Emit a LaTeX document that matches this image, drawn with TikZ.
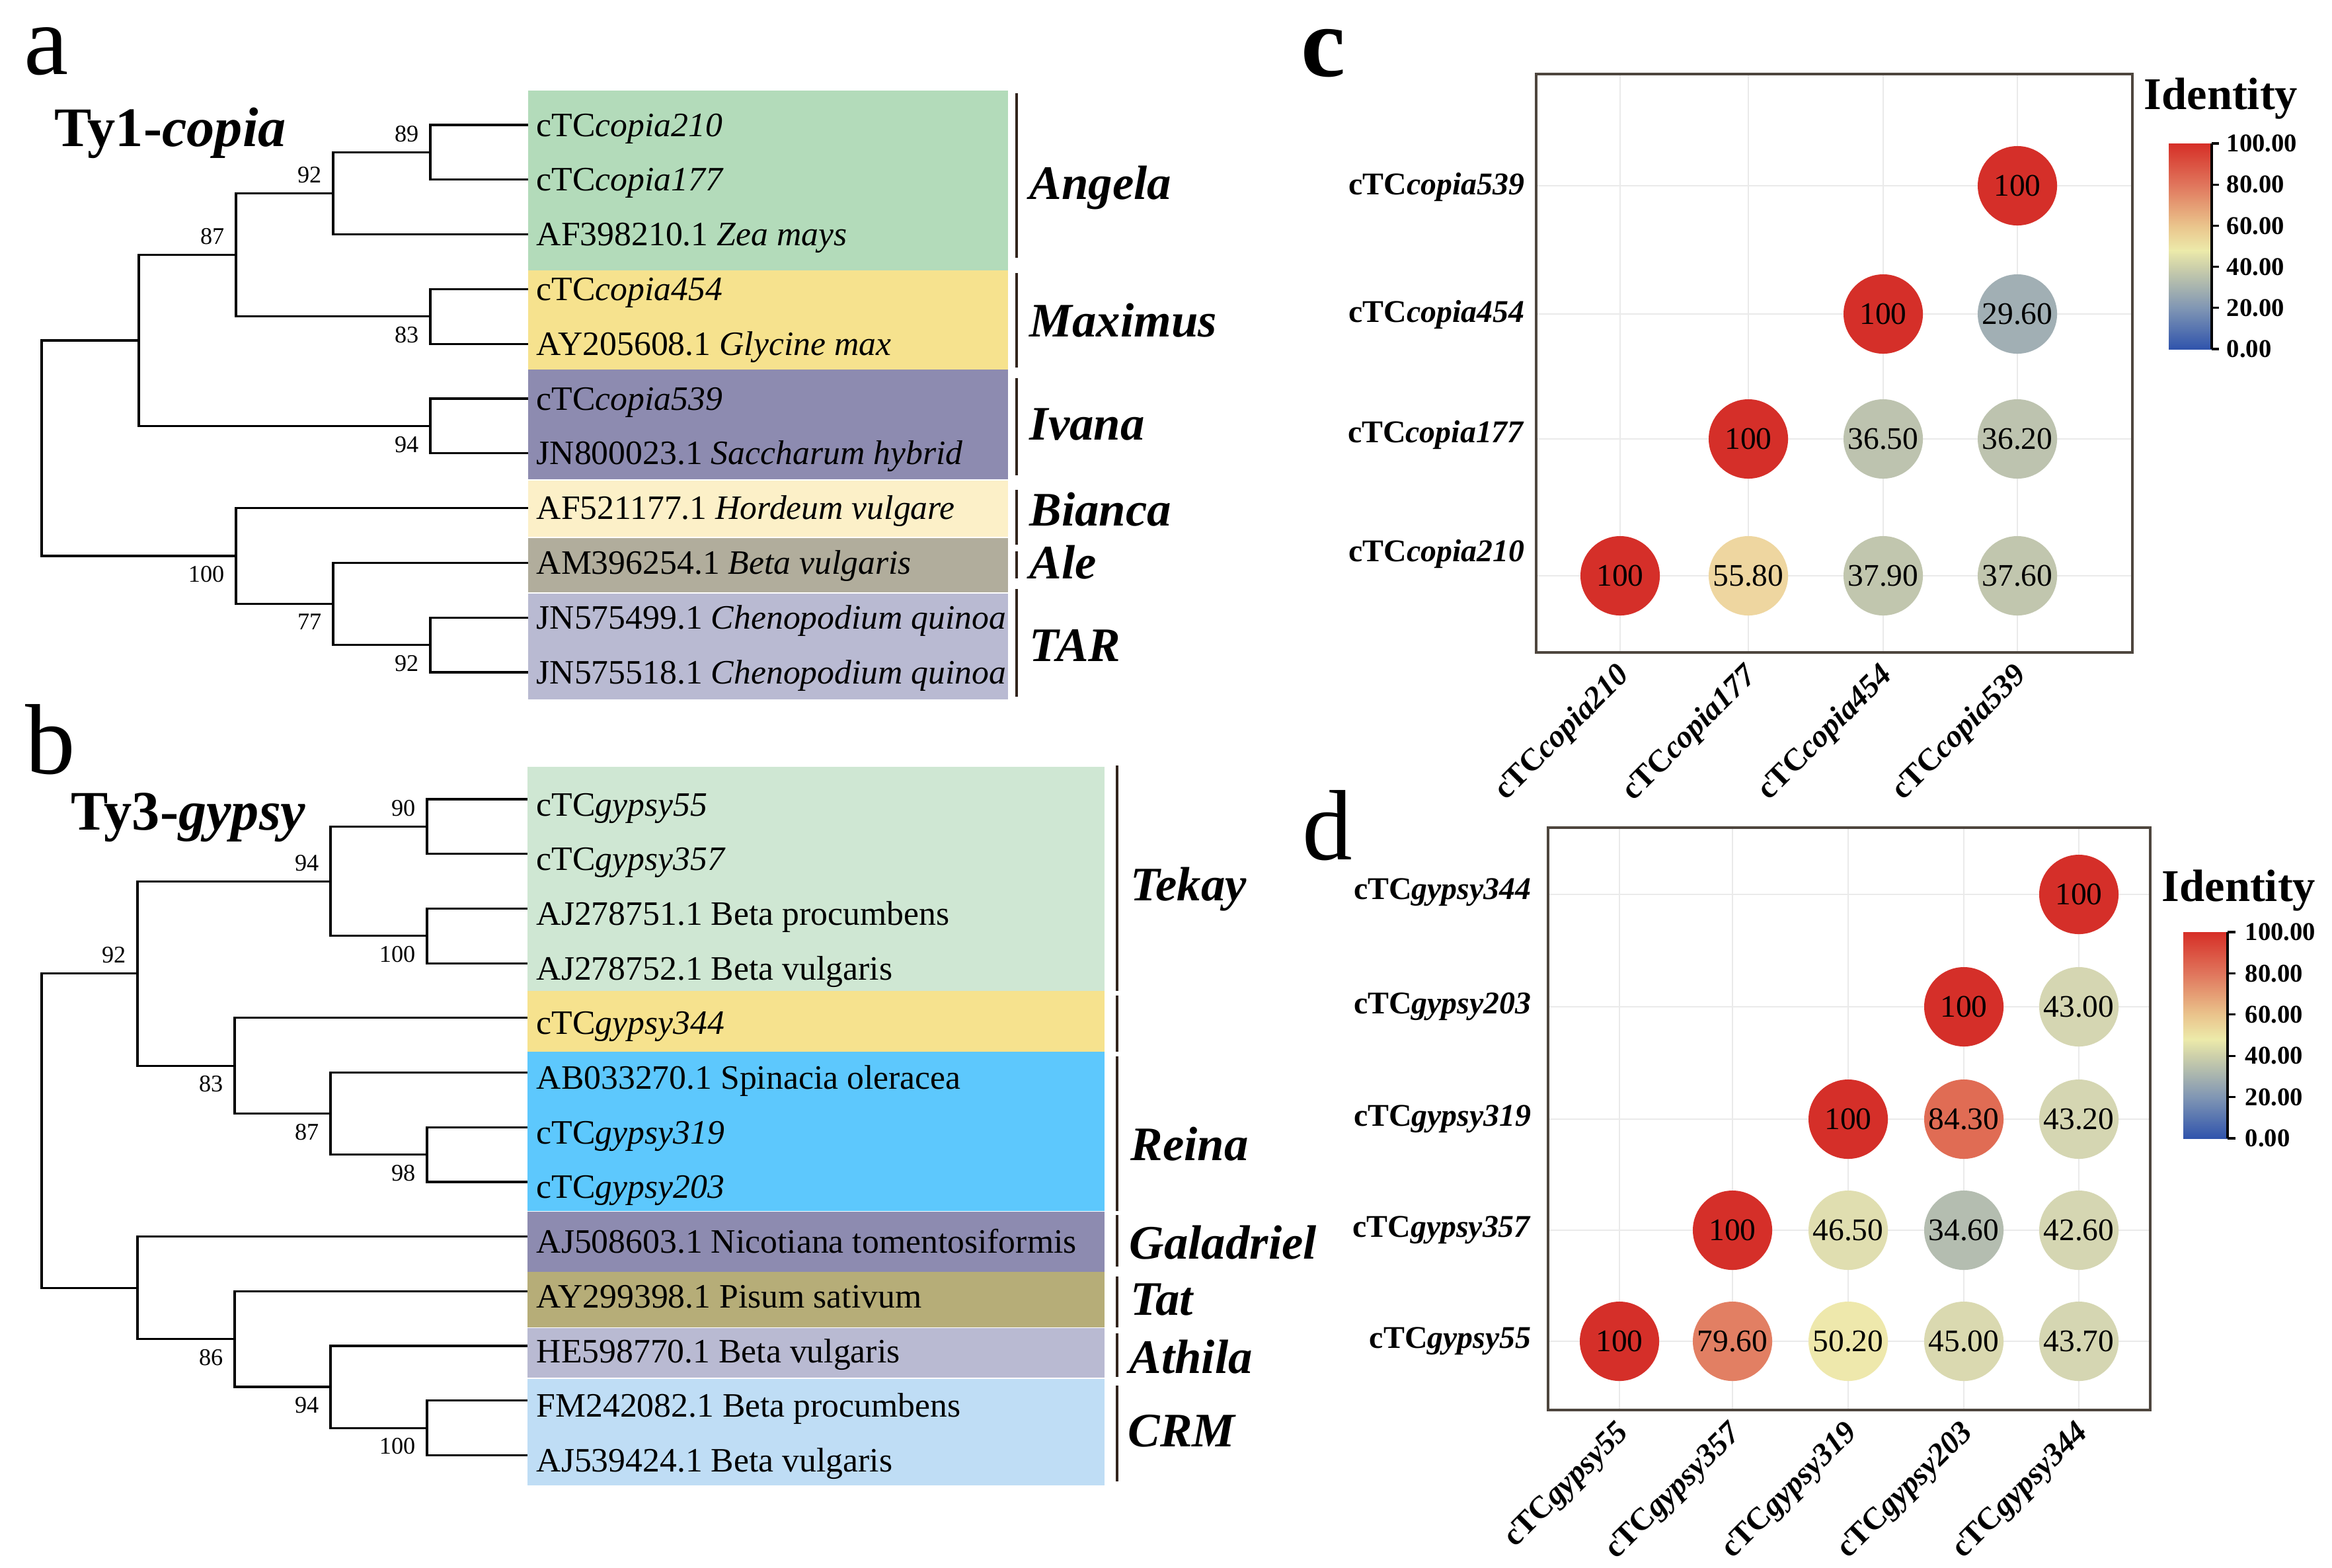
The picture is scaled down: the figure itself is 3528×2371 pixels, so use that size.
\documentclass[tikz,border=0pt]{standalone}
\usepackage{fontspec}
\setmainfont{Liberation Serif}
\usepackage{xcolor}
\usetikzlibrary{positioning}

% clade box colours
\definecolor{angelagreen}{RGB}{179,219,186}
\definecolor{maxyellow}{RGB}{246,226,142}
\definecolor{ivanapurple}{RGB}{141,139,176}
\definecolor{biancacream}{RGB}{252,240,200}
\definecolor{alegray}{RGB}{177,173,156}
\definecolor{tarlav}{RGB}{185,186,210}
\definecolor{tekaygreen}{RGB}{207,231,211}
\definecolor{reinablue}{RGB}{93,200,253}
\definecolor{tatolive}{RGB}{182,173,120}
\definecolor{crmblue}{RGB}{191,221,245}
\definecolor{barbrown}{RGB}{50,36,28}
\definecolor{framegray}{RGB}{78,70,62}
\definecolor{gridgray}{RGB}{234,234,234}
% identity colours
\definecolor{v100}{RGB}{213,47,41}
\definecolor{v843}{RGB}{224,108,84}
\definecolor{v796}{RGB}{226,127,99}
\definecolor{v558}{RGB}{238,214,160}
\definecolor{v502}{RGB}{238,232,172}
\definecolor{v465}{RGB}{224,222,176}
\definecolor{v450}{RGB}{218,217,176}
\definecolor{v43}{RGB}{213,214,178}
\definecolor{v379}{RGB}{193,198,174}
\definecolor{v365}{RGB}{189,195,175}
\definecolor{v346}{RGB}{180,189,176}
\definecolor{v296}{RGB}{161,175,180}
% colour bar stops
\definecolor{cb100}{RGB}{214,47,39}
\definecolor{cb80}{RGB}{224,117,92}
\definecolor{cb60}{RGB}{234,196,140}
\definecolor{cb48}{RGB}{236,234,170}
\definecolor{cb40}{RGB}{205,208,170}
\definecolor{cb20}{RGB}{128,150,180}
\definecolor{cb0}{RGB}{48,84,172}

\tikzset{
  branch/.style={line width=0.9pt, line join=miter},
  leaf/.style={anchor=base west, inner sep=0pt, font=\fontsize{14.7pt}{17pt}\selectfont},
  bootup/.style={anchor=south east, inner sep=0pt, xshift=-1.7mm, yshift=1.5mm, font=\fontsize{10.3pt}{12pt}\selectfont},
  bootdown/.style={anchor=north east, inner sep=0pt, xshift=-1.7mm, yshift=-1.5mm, font=\fontsize{10.3pt}{12pt}\selectfont},
  clade/.style={anchor=base west, inner sep=0pt, font=\fontsize{20.7pt}{24pt}\selectfont\bfseries\itshape},
  cladebar/.style={line width=1.3pt, draw=barbrown},
  panel/.style={anchor=base west, inner sep=0pt, font=\fontsize{43pt}{48pt}\selectfont},
  title/.style={anchor=base west, inner sep=0pt, font=\fontsize{24pt}{28pt}\selectfont\bfseries},
  cell/.style={circle, minimum size=1.2cm, inner sep=0pt, font=\fontsize{13.5pt}{16pt}\selectfont},
  rowlab/.style={anchor=east, inner sep=0pt, font=\fontsize{13.6pt}{16pt}\selectfont\bfseries},
  collab/.style={anchor=east, rotate=45, inner sep=0pt, font=\fontsize{13.6pt}{16pt}\selectfont\bfseries},
  gridln/.style={draw=gridgray, line width=0.6pt},
  frame/.style={draw=framegray, line width=1.1pt},
  ticklab/.style={anchor=west, inner sep=0pt, font=\fontsize{11pt}{13pt}\selectfont\bfseries},
  legtitle/.style={anchor=base west, inner sep=0pt, font=\fontsize{19.5pt}{22pt}\selectfont\bfseries},
}

\begin{document}
\begin{tikzpicture}[x=0.01cm, y=-0.01cm]
      \useasboundingbox (0,0) rectangle (3528,2371);

      % panel letters and titles
      \node[panel] (pa) at (36,112) {a};
      \node[panel] (pb) at (38,1170) {b};
      \node[panel, font=\fontsize{43pt}{48pt}\selectfont\bfseries] (pc) at (1968,115) {c};
      \node[panel] (pd) at (1970,1300) {d};
      \node[title] (ta) at (82,221) {Ty1-\textit{copia}};
      \node[title] (tb) at (107,1255) {Ty3-\textit{gypsy}};

      % coloured clade boxes of tree a
      \fill[angelagreen] (799,137) rectangle (1525,409);
      \fill[maxyellow] (799,409) rectangle (1525,559);
      \fill[ivanapurple] (799,559) rectangle (1525,725);
      \fill[biancacream] (799,727) rectangle (1525,812);
      \fill[alegray] (799,814) rectangle (1525,896);
      \fill[tarlav] (799,898) rectangle (1525,1058);

      % coloured clade boxes of tree b
      \fill[tekaygreen] (798,1160) rectangle (1671,1499);
      \fill[maxyellow] (798,1499) rectangle (1671,1591);
      \fill[reinablue] (798,1591) rectangle (1671,1832);
      \fill[ivanapurple] (798,1833) rectangle (1671,1924);
      \fill[tatolive] (798,1924) rectangle (1671,2008);
      \fill[tarlav] (798,2009) rectangle (1671,2084);
      \fill[crmblue] (798,2086) rectangle (1671,2247);

      % tips of tree a
      \coordinate (la1) at (799,189);
      \coordinate (la2) at (799,271.8);
      \coordinate (la3) at (799,354.6);
      \coordinate (la4) at (799,437.4);
      \coordinate (la5) at (799,520.2);
      \coordinate (la6) at (799,603);
      \coordinate (la7) at (799,685.8);
      \coordinate (la8) at (799,768.6);
      \coordinate (la9) at (799,851.4);
      \coordinate (la10) at (799,934.2);
      \coordinate (la11) at (799,1017);

      % inner nodes of tree a
      \coordinate (na89) at (651,230.4);
      \coordinate (na92) at (504,292.5);
      \coordinate (na83) at (651,478.8);
      \coordinate (na87) at (357,385.65);
      \coordinate (na94) at (651,644.4);
      \coordinate (nax) at (210,515);
      \coordinate (na92b) at (651,975.6);
      \coordinate (na77) at (504,913.5);
      \coordinate (na100) at (357,841);
      \coordinate (naroot) at (63,678);

      \draw[branch] (na89) |- (la1);
      \draw[branch] (na89) |- (la2);
      \draw[branch] (na92) |- (na89);
      \draw[branch] (na92) |- (la3);
      \draw[branch] (na83) |- (la4);
      \draw[branch] (na83) |- (la5);
      \draw[branch] (na87) |- (na92);
      \draw[branch] (na87) |- (na83);
      \draw[branch] (na94) |- (la6);
      \draw[branch] (na94) |- (la7);
      \draw[branch] (nax) |- (na87);
      \draw[branch] (nax) |- (na94);
      \draw[branch] (na92b) |- (la10);
      \draw[branch] (na92b) |- (la11);
      \draw[branch] (na77) |- (la9);
      \draw[branch] (na77) |- (na92b);
      \draw[branch] (na100) |- (la8);
      \draw[branch] (na100) |- (na77);
      \draw[branch] (naroot) |- (nax);
      \draw[branch] (naroot) |- (na100);

      % bootstrap values of tree a
      \node[bootup] (ba89) at (na89) {89};
      \node[bootup] (ba92) at (na92) {92};
      \node[bootup] (ba87) at (na87) {87};
      \node[bootdown] (ba83) at (na83) {83};
      \node[bootdown] (ba94) at (na94) {94};
      \node[bootdown] (ba92b) at (na92b) {92};
      \node[bootdown] (ba77) at (na77) {77};
      \node[bootdown] (ba100) at (na100) {100};

      % tip labels of tree a
      \node[leaf] (sa1) at (811,206) {cTC\textit{copia210}};
      \node[leaf] (sa2) at (811,288.8) {cTC\textit{copia177}};
      \node[leaf] (sa3) at (811,371.6) {AF398210.1 \textit{Zea mays}};
      \node[leaf] (sa4) at (811,454.4) {cTC\textit{copia454}};
      \node[leaf] (sa5) at (811,537.2) {AY205608.1 \textit{Glycine max}};
      \node[leaf] (sa6) at (811,620) {cTC\textit{copia539}};
      \node[leaf] (sa7) at (811,702.8) {JN800023.1 \textit{Saccharum hybrid}};
      \node[leaf] (sa8) at (811,785.6) {AF521177.1 \textit{Hordeum vulgare}};
      \node[leaf] (sa9) at (811,868.4) {AM396254.1 \textit{Beta vulgaris}};
      \node[leaf] (sa10) at (811,951.2) {JN575499.1 \textit{Chenopodium quinoa}};
      \node[leaf] (sa11) at (811,1034) {JN575518.1 \textit{Chenopodium quinoa}};

      % clade bars and names of tree a
      \draw[cladebar] (1538,141) -- (1538,390);
      \draw[cladebar] (1538,413) -- (1538,556);
      \draw[cladebar] (1538,572) -- (1538,719);
      \draw[cladebar] (1538,741) -- (1538,824);
      \draw[cladebar] (1538,834) -- (1538,875);
      \draw[cladebar] (1538,891) -- (1538,1054);
      \node[clade] (angela) at (1557,301) {Angela};
      \node[clade] (maximus) at (1557,509) {Maximus};
      \node[clade] (ivana) at (1557,665) {Ivana};
      \node[clade] (bianca) at (1557,795) {Bianca};
      \node[clade] (ale) at (1557,875) {Ale};
      \node[clade] (tar) at (1557,1000) {TAR};

      % tips of tree b
      \coordinate (lb1) at (798,1209);
      \coordinate (lb2) at (798,1291.7);
      \coordinate (lb3) at (798,1374.4);
      \coordinate (lb4) at (798,1457.1);
      \coordinate (lb5) at (798,1539.8);
      \coordinate (lb6) at (798,1622.5);
      \coordinate (lb7) at (798,1705.2);
      \coordinate (lb8) at (798,1787.9);
      \coordinate (lb9) at (798,1870.6);
      \coordinate (lb10) at (798,1953.3);
      \coordinate (lb11) at (798,2036);
      \coordinate (lb12) at (798,2118.7);
      \coordinate (lb13) at (798,2201.4);

      % inner nodes of tree b
      \coordinate (nb90) at (646,1250.35);
      \coordinate (nb100a) at (646,1415.75);
      \coordinate (nb94a) at (500,1333.05);
      \coordinate (nb98) at (646,1746.55);
      \coordinate (nb87) at (500,1684.5);
      \coordinate (nb83) at (355,1612.15);
      \coordinate (nb92) at (208,1472.6);
      \coordinate (nb100b) at (646,2160.05);
      \coordinate (nb94b) at (500,2098);
      \coordinate (nb86) at (355,2025.65);
      \coordinate (nbk) at (208,1948.1);
      \coordinate (nbroot) at (63,1710.35);

      \draw[branch] (nb90) |- (lb1);
      \draw[branch] (nb90) |- (lb2);
      \draw[branch] (nb100a) |- (lb3);
      \draw[branch] (nb100a) |- (lb4);
      \draw[branch] (nb94a) |- (nb90);
      \draw[branch] (nb94a) |- (nb100a);
      \draw[branch] (nb98) |- (lb7);
      \draw[branch] (nb98) |- (lb8);
      \draw[branch] (nb87) |- (lb6);
      \draw[branch] (nb87) |- (nb98);
      \draw[branch] (nb83) |- (lb5);
      \draw[branch] (nb83) |- (nb87);
      \draw[branch] (nb92) |- (nb94a);
      \draw[branch] (nb92) |- (nb83);
      \draw[branch] (nb100b) |- (lb12);
      \draw[branch] (nb100b) |- (lb13);
      \draw[branch] (nb94b) |- (lb11);
      \draw[branch] (nb94b) |- (nb100b);
      \draw[branch] (nb86) |- (lb10);
      \draw[branch] (nb86) |- (nb94b);
      \draw[branch] (nbk) |- (lb9);
      \draw[branch] (nbk) |- (nb86);
      \draw[branch] (nbroot) |- (nb92);
      \draw[branch] (nbroot) |- (nbk);

      % bootstrap values of tree b
      \node[bootup] (bb90) at (nb90) {90};
      \node[bootdown] (bb100a) at (nb100a) {100};
      \node[bootup] (bb94a) at (nb94a) {94};
      \node[bootdown] (bb98) at (nb98) {98};
      \node[bootdown] (bb87) at (nb87) {87};
      \node[bootdown] (bb83) at (nb83) {83};
      \node[bootup] (bb92) at (nb92) {92};
      \node[bootdown] (bb100b) at (nb100b) {100};
      \node[bootdown] (bb94b) at (nb94b) {94};
      \node[bootdown] (bb86) at (nb86) {86};

      % tip labels of tree b
      \node[leaf] (sb1) at (811,1234) {cTC\textit{gypsy55}};
      \node[leaf] (sb2) at (811,1316.7) {cTC\textit{gypsy357}};
      \node[leaf] (sb3) at (811,1399.4) {AJ278751.1 Beta procumbens};
      \node[leaf] (sb4) at (811,1482.1) {AJ278752.1 Beta vulgaris};
      \node[leaf] (sb5) at (811,1564.8) {cTC\textit{gypsy344}};
      \node[leaf] (sb6) at (811,1647.5) {AB033270.1 Spinacia oleracea};
      \node[leaf] (sb7) at (811,1730.2) {cTC\textit{gypsy319}};
      \node[leaf] (sb8) at (811,1812.9) {cTC\textit{gypsy203}};
      \node[leaf] (sb9) at (811,1895.6) {AJ508603.1 Nicotiana tomentosiformis};
      \node[leaf] (sb10) at (811,1978.3) {AY299398.1 Pisum sativum};
      \node[leaf] (sb11) at (811,2061) {HE598770.1 Beta vulgaris};
      \node[leaf] (sb12) at (811,2143.7) {FM242082.1 Beta procumbens};
      \node[leaf] (sb13) at (811,2226.4) {AJ539424.1 Beta vulgaris};

      % clade bars and names of tree b
      \draw[cladebar] (1690,1158) -- (1690,1499);
      \draw[cladebar] (1690,1506) -- (1690,1591);
      \draw[cladebar] (1690,1598) -- (1690,1832);
      \draw[cladebar] (1690,1838) -- (1690,1916);
      \draw[cladebar] (1690,1931) -- (1690,2008);
      \draw[cladebar] (1690,2017) -- (1690,2083);
      \draw[cladebar] (1690,2096) -- (1690,2241);
      \node[clade] (tekay) at (1710,1362) {Tekay};
      \node[clade] (reina) at (1710,1755) {Reina};
      \node[clade] (galadriel) at (1708,1904) {Galadriel};
      \node[clade] (tat) at (1710,1989) {Tat};
      \node[clade] (athila) at (1708,2077) {Athila};
      \node[clade] (crm) at (1706,2188) {CRM};

      % identity plot c: grid and frame
      \draw[gridln] (2451,112) -- (2451,987);
      \draw[gridln] (2645,112) -- (2645,987);
      \draw[gridln] (2849,112) -- (2849,987);
      \draw[gridln] (3052,112) -- (3052,987);
      \draw[gridln] (2324,281) -- (3226,281);
      \draw[gridln] (2324,475) -- (3226,475);
      \draw[gridln] (2324,664) -- (3226,664);
      \draw[gridln] (2324,871) -- (3226,871);
      \draw[frame] (2324,112) rectangle (3226,987);

      % identity plot c: values
      \node[cell, fill=v100] (c11) at (2451,871) {100};
      \node[cell, fill=v558] (c12) at (2645,871) {55.80};
      \node[cell, fill=v379] (c13) at (2849,871) {37.90};
      \node[cell, fill=v379] (c14) at (3052,871) {37.60};
      \node[cell, fill=v100] (c22) at (2645,664) {100};
      \node[cell, fill=v365] (c23) at (2849,664) {36.50};
      \node[cell, fill=v365] (c24) at (3052,664) {36.20};
      \node[cell, fill=v100] (c33) at (2849,475) {100};
      \node[cell, fill=v296] (c34) at (3052,475) {29.60};
      \node[cell, fill=v100] (c44) at (3052,281) {100};

      % identity plot c: axis labels
      \node[rowlab] (cr4) at (2307,283) {cTC\textit{copia539}};
      \node[rowlab] (cr3) at (2307,476) {cTC\textit{copia454}};
      \node[rowlab] (cr2) at (2307,658) {cTC\textit{copia177}};
      \node[rowlab] (cr1) at (2307,838) {cTC\textit{copia210}};
      \node[collab] (cc1) at (2459,1015) {cTC\textit{copia210}};
      \node[collab] (cc2) at (2653,1015) {cTC\textit{copia177}};
      \node[collab] (cc3) at (2857,1015) {cTC\textit{copia454}};
      \node[collab] (cc4) at (3060,1015) {cTC\textit{copia539}};

      % identity plot c: colour bar
      \node[legtitle] (cid) at (3243,165) {Identity};
      \shade[top color=cb100, bottom color=cb80] (3281,217) rectangle (3346,279.2);
      \shade[top color=cb80, bottom color=cb60] (3281,279.2) rectangle (3346,341.4);
      \shade[top color=cb60, bottom color=cb48] (3281,341.4) rectangle (3346,378.7);
      \shade[top color=cb48, bottom color=cb40] (3281,378.7) rectangle (3346,403.6);
      \shade[top color=cb40, bottom color=cb20] (3281,403.6) rectangle (3346,465.8);
      \shade[top color=cb20, bottom color=cb0] (3281,465.8) rectangle (3346,528);
      \draw[line width=0.9pt] (3346,217) -- (3346,528);
      \draw[line width=0.9pt] (3346,217) -- (3357,217);
      \draw[line width=0.9pt] (3346,279.2) -- (3357,279.2);
      \draw[line width=0.9pt] (3346,341.4) -- (3357,341.4);
      \draw[line width=0.9pt] (3346,403.6) -- (3357,403.6);
      \draw[line width=0.9pt] (3346,465.8) -- (3357,465.8);
      \draw[line width=0.9pt] (3346,528) -- (3357,528);
      \node[ticklab] (ct100) at (3368,217) {100.00};
      \node[ticklab] (ct80) at (3368,279.2) {80.00};
      \node[ticklab] (ct60) at (3368,341.4) {60.00};
      \node[ticklab] (ct40) at (3368,403.6) {40.00};
      \node[ticklab] (ct20) at (3368,465.8) {20.00};
      \node[ticklab] (ct0) at (3368,528) {0.00};

      % identity plot d: grid and frame
      \draw[gridln] (2450,1252) -- (2450,2133);
      \draw[gridln] (2621,1252) -- (2621,2133);
      \draw[gridln] (2796,1252) -- (2796,2133);
      \draw[gridln] (2971,1252) -- (2971,2133);
      \draw[gridln] (3145,1252) -- (3145,2133);
      \draw[gridln] (2342,1353) -- (3253,1353);
      \draw[gridln] (2342,1523) -- (3253,1523);
      \draw[gridln] (2342,1693) -- (3253,1693);
      \draw[gridln] (2342,1861) -- (3253,1861);
      \draw[gridln] (2342,2029) -- (3253,2029);
      \draw[frame] (2342,1252) rectangle (3253,2133);

      % identity plot d: values
      \node[cell, fill=v100] (d11) at (2450,2029) {100};
      \node[cell, fill=v796] (d12) at (2621,2029) {79.60};
      \node[cell, fill=v502] (d13) at (2796,2029) {50.20};
      \node[cell, fill=v450] (d14) at (2971,2029) {45.00};
      \node[cell, fill=v43] (d15) at (3145,2029) {43.70};
      \node[cell, fill=v100] (d22) at (2621,1861) {100};
      \node[cell, fill=v465] (d23) at (2796,1861) {46.50};
      \node[cell, fill=v346] (d24) at (2971,1861) {34.60};
      \node[cell, fill=v43] (d25) at (3145,1861) {42.60};
      \node[cell, fill=v100] (d33) at (2796,1693) {100};
      \node[cell, fill=v843] (d34) at (2971,1693) {84.30};
      \node[cell, fill=v43] (d35) at (3145,1693) {43.20};
      \node[cell, fill=v100] (d44) at (2971,1523) {100};
      \node[cell, fill=v43] (d45) at (3145,1523) {43.00};
      \node[cell, fill=v100] (d55) at (3145,1353) {100};

      % identity plot d: axis labels
      \node[rowlab] (dr5) at (2317,1350) {cTC\textit{gypsy344}};
      \node[rowlab] (dr4) at (2317,1523) {cTC\textit{gypsy203}};
      \node[rowlab] (dr3) at (2317,1693) {cTC\textit{gypsy319}};
      \node[rowlab] (dr2) at (2317,1861) {cTC\textit{gypsy357}};
      \node[rowlab] (dr1) at (2317,2029) {cTC\textit{gypsy55}};
      \node[collab] (dc1) at (2458,2161) {cTC\textit{gypsy55}};
      \node[collab] (dc2) at (2629,2161) {cTC\textit{gypsy357}};
      \node[collab] (dc3) at (2804,2161) {cTC\textit{gypsy319}};
      \node[collab] (dc4) at (2979,2161) {cTC\textit{gypsy203}};
      \node[collab] (dc5) at (3153,2161) {cTC\textit{gypsy344}};

      % identity plot d: colour bar
      \node[legtitle] (did) at (3270,1363) {Identity};
      \shade[top color=cb100, bottom color=cb80] (3303,1410) rectangle (3370,1472.4);
      \shade[top color=cb80, bottom color=cb60] (3303,1472.4) rectangle (3370,1534.8);
      \shade[top color=cb60, bottom color=cb48] (3303,1534.8) rectangle (3370,1572.2);
      \shade[top color=cb48, bottom color=cb40] (3303,1572.2) rectangle (3370,1597.2);
      \shade[top color=cb40, bottom color=cb20] (3303,1597.2) rectangle (3370,1659.6);
      \shade[top color=cb20, bottom color=cb0] (3303,1659.6) rectangle (3370,1722);
      \draw[line width=0.9pt] (3370,1410) -- (3370,1722);
      \draw[line width=0.9pt] (3370,1410) -- (3382,1410);
      \draw[line width=0.9pt] (3370,1472.4) -- (3382,1472.4);
      \draw[line width=0.9pt] (3370,1534.8) -- (3382,1534.8);
      \draw[line width=0.9pt] (3370,1597.2) -- (3382,1597.2);
      \draw[line width=0.9pt] (3370,1659.6) -- (3382,1659.6);
      \draw[line width=0.9pt] (3370,1722) -- (3382,1722);
      \node[ticklab] (dt100) at (3396,1410) {100.00};
      \node[ticklab] (dt80) at (3396,1472.4) {80.00};
      \node[ticklab] (dt60) at (3396,1534.8) {60.00};
      \node[ticklab] (dt40) at (3396,1597.2) {40.00};
      \node[ticklab] (dt20) at (3396,1659.6) {20.00};
      \node[ticklab] (dt0) at (3396,1722) {0.00};
\end{tikzpicture}
\end{document}
